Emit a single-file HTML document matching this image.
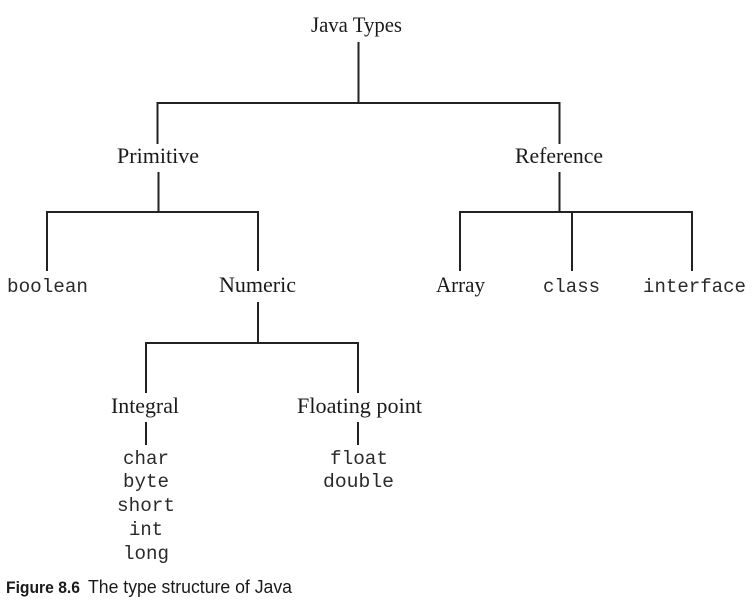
<!DOCTYPE html>
<html>
<head>
<meta charset="utf-8">
<style>
  html, body { margin:0; padding:0; background:#ffffff; }
  body { width:752px; height:613px; overflow:hidden; }
  svg { display:block; }
  .serif { font-family: "Liberation Serif", serif; font-size:22px; fill:#1a1a1a; }
  .mono { font-family: "Liberation Mono", monospace; font-size:19.5px; fill:#2a2a2a; }
  .cap { font-family: "Liberation Sans", sans-serif; fill:#1a1a1a; }
</style>
</head>
<body>
<svg width="752" height="613" viewBox="0 0 752 613" xmlns="http://www.w3.org/2000/svg">
  <g stroke="#222" stroke-width="2" fill="none" stroke-linecap="square">
    <!-- Java Types -->
    <line x1="358.5" y1="43" x2="358.5" y2="103"/>
    <line x1="157.5" y1="103" x2="559.5" y2="103"/>
    <line x1="157.5" y1="103" x2="157.5" y2="143"/>
    <line x1="559.5" y1="103" x2="559.5" y2="143"/>
    <!-- Primitive -->
    <line x1="158.5" y1="173" x2="158.5" y2="212"/>
    <line x1="47" y1="212" x2="258" y2="212"/>
    <line x1="47" y1="212" x2="47" y2="270"/>
    <line x1="258" y1="212" x2="258" y2="270"/>
    <!-- Reference -->
    <line x1="559.5" y1="173" x2="559.5" y2="212"/>
    <line x1="460" y1="212" x2="692" y2="212"/>
    <line x1="460" y1="212" x2="460" y2="270"/>
    <line x1="572" y1="212" x2="572" y2="270"/>
    <line x1="692" y1="212" x2="692" y2="270"/>
    <!-- Numeric -->
    <line x1="258" y1="303" x2="258" y2="343"/>
    <line x1="146" y1="343" x2="358" y2="343"/>
    <line x1="146" y1="343" x2="146" y2="392"/>
    <line x1="358" y1="343" x2="358" y2="392"/>
    <!-- Integral / Floating -->
    <line x1="146" y1="423" x2="146" y2="444"/>
    <line x1="358" y1="423" x2="358" y2="444"/>
  </g>

  <text class="serif" x="311" y="32" textLength="91" lengthAdjust="spacingAndGlyphs">Java Types</text>
  <text class="serif" x="117" y="163" textLength="82" lengthAdjust="spacingAndGlyphs">Primitive</text>
  <text class="serif" x="515" y="163" textLength="88" lengthAdjust="spacingAndGlyphs">Reference</text>

  <text class="mono" x="7" y="292" textLength="81" lengthAdjust="spacingAndGlyphs">boolean</text>
  <text class="serif" x="219" y="292" textLength="77" lengthAdjust="spacingAndGlyphs">Numeric</text>
  <text class="serif" x="436" y="292" textLength="49" lengthAdjust="spacingAndGlyphs">Array</text>
  <text class="mono" x="543" y="292" textLength="57" lengthAdjust="spacingAndGlyphs">class</text>
  <text class="mono" x="643" y="292" textLength="103" lengthAdjust="spacingAndGlyphs">interface</text>

  <text class="serif" x="111" y="413" textLength="68" lengthAdjust="spacingAndGlyphs">Integral</text>
  <text class="serif" x="297" y="413" textLength="125" lengthAdjust="spacingAndGlyphs">Floating point</text>

  <text class="mono" x="123" y="464" textLength="46" lengthAdjust="spacingAndGlyphs">char</text>
  <text class="mono" x="123" y="487" textLength="46" lengthAdjust="spacingAndGlyphs">byte</text>
  <text class="mono" x="117" y="511" textLength="58" lengthAdjust="spacingAndGlyphs">short</text>
  <text class="mono" x="129" y="535" textLength="34" lengthAdjust="spacingAndGlyphs">int</text>
  <text class="mono" x="123" y="559" textLength="46" lengthAdjust="spacingAndGlyphs">long</text>

  <text class="mono" x="330" y="464" textLength="58" lengthAdjust="spacingAndGlyphs">float</text>
  <text class="mono" x="323" y="487" textLength="71" lengthAdjust="spacingAndGlyphs">double</text>

  <text class="cap" x="6" y="593" font-size="16.5" font-weight="bold" textLength="74" lengthAdjust="spacingAndGlyphs">Figure 8.6</text>
  <text class="cap" x="88" y="593" font-size="18.5" textLength="204" lengthAdjust="spacingAndGlyphs">The type structure of Java</text>
</svg>
</body>
</html>
